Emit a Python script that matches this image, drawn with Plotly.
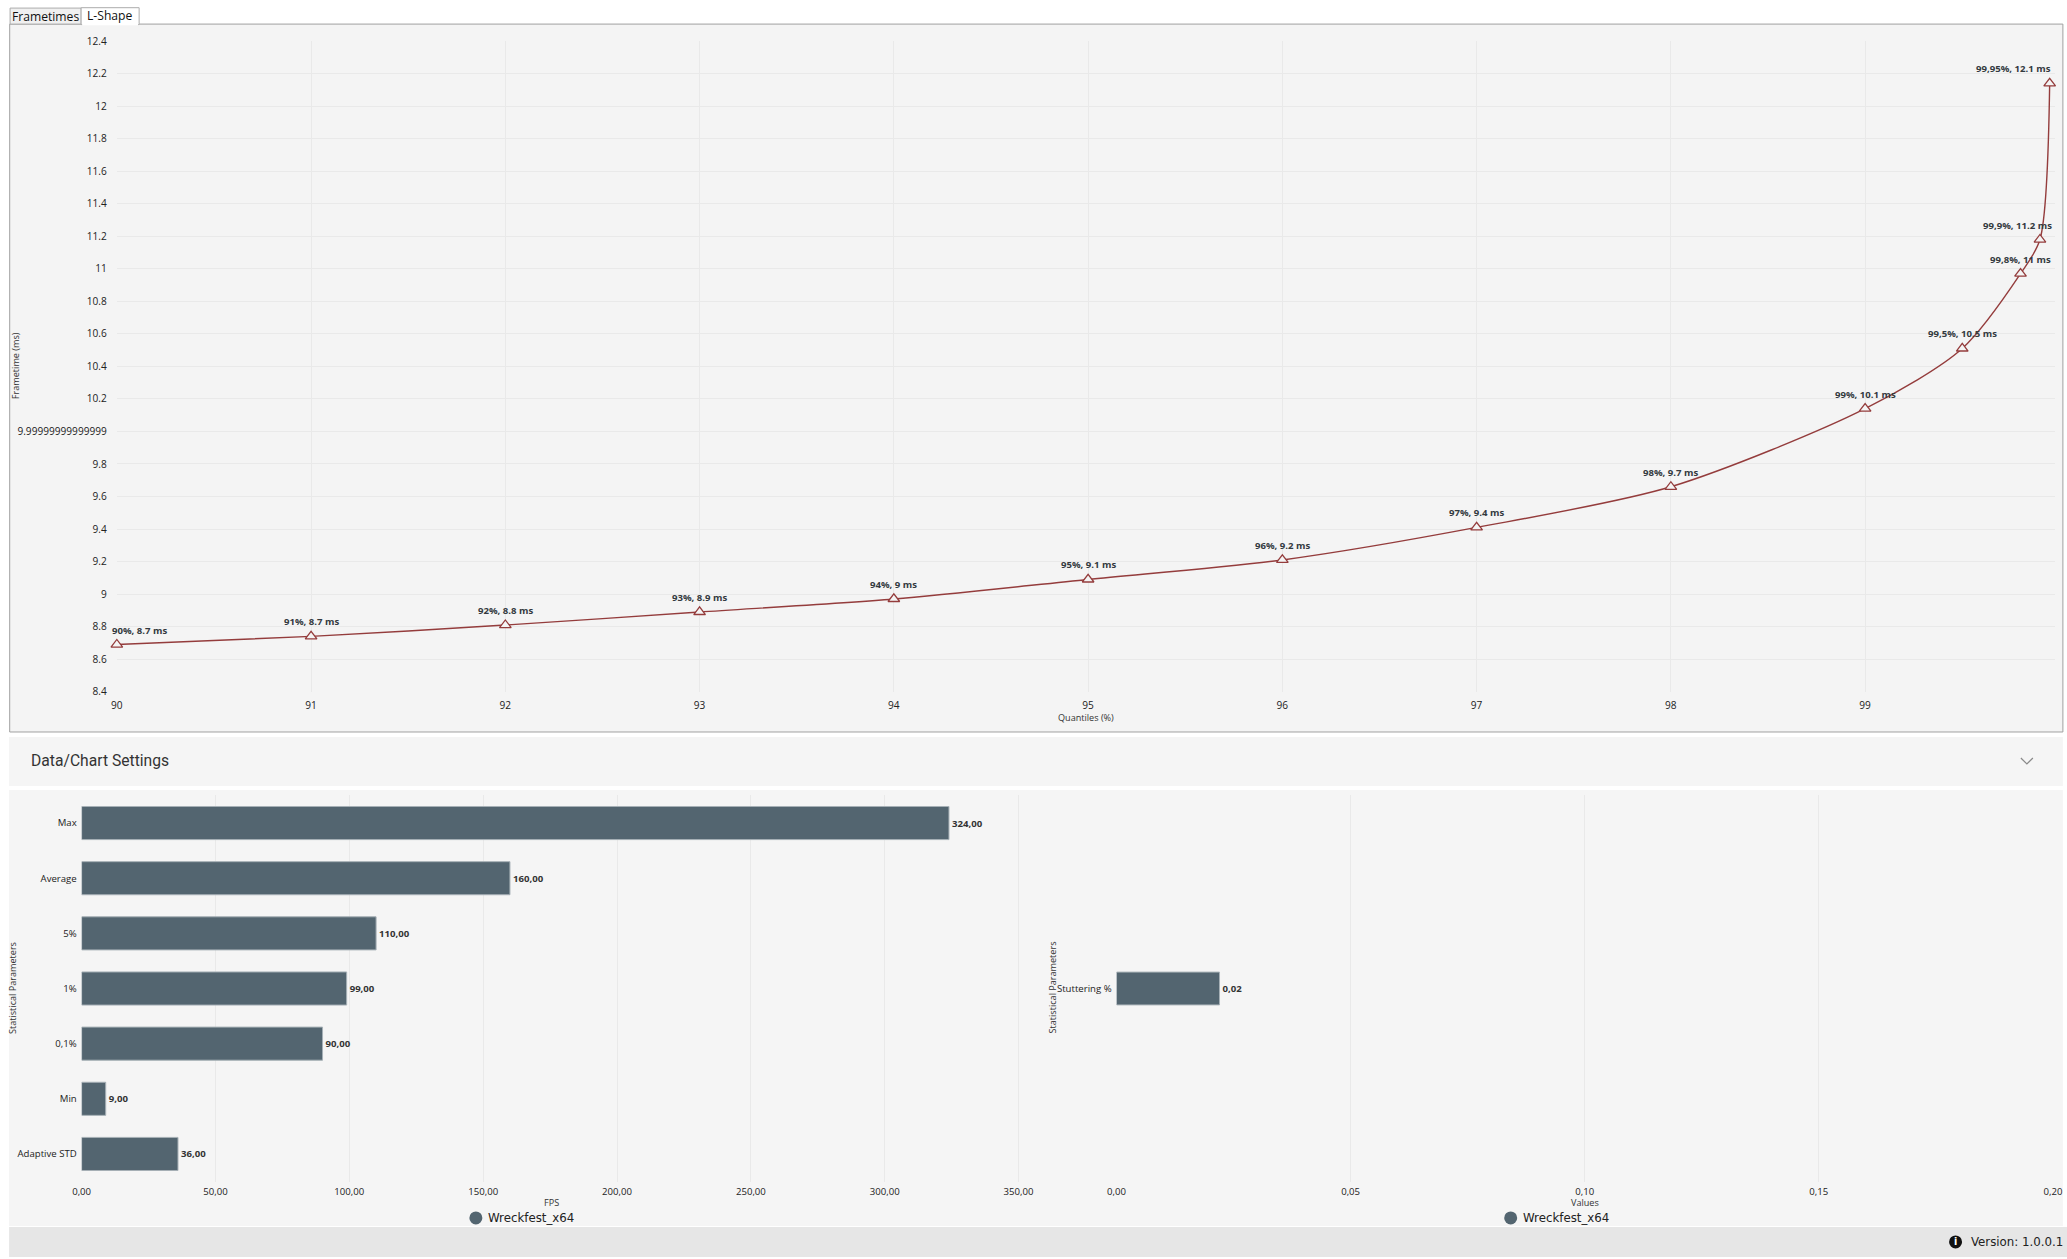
import plotly.graph_objects as go

# ---------------- data ----------------
QUANTILES = [90, 91, 92, 93, 94, 95, 96, 97, 98, 99, 99.5, 99.8, 99.9, 99.95]
FRAMETIMES_MS = [8.69, 8.74, 8.81, 8.89, 8.97, 9.09, 9.21, 9.41, 9.66, 10.14, 10.51, 10.97, 11.18, 12.14]
Y_TICK_VALUES = [8.4, 8.6, 8.8, 9.0, 9.2, 9.4, 9.6, 9.8, 10.0, 10.2, 10.4, 10.6, 10.8, 11.0, 11.2, 11.4, 11.6, 11.8, 12.0, 12.2, 12.4]
Y_TICK_TEXT = ["8.4", "8.6", "8.8", "9", "9.2", "9.4", "9.6", "9.8", "9.99999999999999", "10.2", "10.4", "10.6",
               "10.8", "11", "11.2", "11.4", "11.6", "11.8", "12", "12.2", "12.4"]
X_TICK_VALUES = [90, 91, 92, 93, 94, 95, 96, 97, 98, 99]

FPS_PARAMS = ["Max", "Average", "5%", "1%", "0,1%", "Min", "Adaptive STD"]
FPS_VALUES = [324, 160, 110, 99, 90, 9, 36]
OTHER_PARAMS = ["Stuttering %"]
OTHER_VALUES = [0.022]
SERIES_NAME = "Wreckfest_x64"

# ---------------- styles / layout helpers ----------------
# positions below are given in screen pixels of the target picture; the page keeps an
# 8px body margin and is photographed at a slight reduction, so convert accordingly
S = 0.989
OFF = 8
W, H = 2074, 1257
def fx(p): return (p / S - OFF) / W
def fy(p): return 1 - (p / S - OFF) / H
def fs(v): return v / S

FONT = "Open Sans, Noto Sans, sans-serif"
NARROW = "Liberation Sans Narrow, DejaVu Sans Condensed, Roboto, sans-serif"
LINE_COLOR = "#943c3c"
BAR_COLOR = "#536570"
TXT = "#333333"
GRID = "#e9e9e9"
LABEL_XSHIFT = [23, 0, 0, 0, 0, 0, 0, 0, 0, 0, 0, 0, -22, -36]

fig = go.Figure()

# L-shape line
fig.add_trace(go.Scatter(
    x=QUANTILES, y=FRAMETIMES_MS, mode="lines+markers",
    line=dict(color=LINE_COLOR, width=1.4, shape="spline", smoothing=0.8),
    marker=dict(symbol="triangle-up", size=fs(10), color="#f4f4f4",
                line=dict(color=LINE_COLOR, width=1.3)),
    cliponaxis=False, showlegend=False, xaxis="x", yaxis="y"))

# FPS bars
fig.add_trace(go.Bar(
    x=FPS_VALUES, y=FPS_PARAMS, orientation="h", width=0.6,
    marker=dict(color=BAR_COLOR, line=dict(color="#a6b0b6", width=1)),
    texttemplate="<b>%{x:.2f}</b>", textposition="outside",
    textfont=dict(family=FONT, size=fs(9.5), color=TXT), cliponaxis=False,
    showlegend=False, xaxis="x2", yaxis="y2"))

# Other values bar
fig.add_trace(go.Bar(
    x=OTHER_VALUES, y=OTHER_PARAMS, orientation="h", width=0.085,
    marker=dict(color=BAR_COLOR, line=dict(color="#a6b0b6", width=1)),
    texttemplate="<b>%{x:.2f}</b>", textposition="outside",
    textfont=dict(family=FONT, size=fs(9.5), color=TXT), cliponaxis=False,
    showlegend=False, xaxis="x3", yaxis="y3"))

x_max = 90 + (2053 - 115.7) / ((1863.3 - 115.7) / 9)

tickfont = dict(family=FONT, size=fs(10), color="#222222")
bartickfont = dict(family=FONT, size=fs(9.5), color="#222222")

layout = dict(
    width=W, height=H, margin=dict(l=0, r=0, t=0, b=0),
    paper_bgcolor="#ffffff", plot_bgcolor="rgba(0,0,0,0)",
    separators=",.",
    font=dict(family=FONT, color=TXT),
    showlegend=False,
    xaxis=dict(domain=[fx(115.7), fx(2053)], range=[90, x_max], tickvals=X_TICK_VALUES,
               showgrid=True, gridcolor=GRID, gridwidth=1, zeroline=False, showline=False,
               ticks="outside", ticklen=4, tickcolor="rgba(0,0,0,0)", tickfont=tickfont,
               anchor="y", fixedrange=True),
    yaxis=dict(domain=[fy(692.7), fy(42)], range=[8.4, 12.4], tickvals=Y_TICK_VALUES, ticktext=Y_TICK_TEXT,
               showgrid=True, gridcolor=GRID, gridwidth=1, zeroline=False, showline=False,
               ticks="outside", ticklen=7, tickcolor="rgba(0,0,0,0)", tickfont=tickfont,
               anchor="x", fixedrange=True),
    xaxis2=dict(domain=[fx(80.5), fx(1019.5)], range=[0, 350.9], dtick=50, tickformat=".2f",
                showgrid=True, gridcolor=GRID, zeroline=False, showline=False,
                ticks="outside", ticklen=1, tickcolor="rgba(0,0,0,0)", tickfont=bartickfont,
                anchor="y2", fixedrange=True),
    yaxis2=dict(domain=[fy(1182.6), fy(796.5)], autorange="reversed", type="category",
                showgrid=False, zeroline=False, showline=False,
                ticks="outside", ticklen=2, tickcolor="rgba(0,0,0,0)", tickfont=bartickfont,
                anchor="x2", fixedrange=True),
    xaxis3=dict(domain=[fx(1115), fx(2051)], range=[0, 0.2], dtick=0.05, tickformat=".2f",
                showgrid=True, gridcolor=GRID, zeroline=False, showline=False,
                ticks="outside", ticklen=1, tickcolor="rgba(0,0,0,0)", tickfont=bartickfont,
                anchor="y3", fixedrange=True),
    yaxis3=dict(domain=[fy(1182.6), fy(796.5)], type="category",
                showgrid=False, zeroline=False, showline=False,
                ticks="outside", ticklen=2, tickcolor="rgba(0,0,0,0)", tickfont=bartickfont,
                anchor="x3", fixedrange=True),
)

def rect(x0, y0, x1, y1, fill, line=None, lw=1):
    return dict(type="rect", xref="paper", yref="paper", x0=fx(x0), x1=fx(x1), y0=fy(y1), y1=fy(y0),
                fillcolor=fill, line=dict(color=line or "rgba(0,0,0,0)", width=lw if line else 0), layer="below")

def circle(cx, cy, r, fill):
    return dict(type="circle", xref="paper", yref="paper", x0=fx(cx - r), x1=fx(cx + r), y0=fy(cy + r), y1=fy(cy - r),
                fillcolor=fill, line=dict(width=0), layer="above")

shapes = [
    rect(8.6, 25, 2061, 733, "#f4f4f4", "#a0a0a0", 1),
    rect(9, 9, 80, 25, "#f0f0f0", "#acacac", 1),
    rect(80, 8.6, 138, 25.5, "#ffffff", "#acacac", 1),
    rect(81, 24, 137, 26.5, "#ffffff"),
    rect(8, 738, 2061, 787, "#f5f5f5"),
    rect(8, 791, 2061, 1227, "#f5f5f5"),
    rect(8, 1228, 2067, 1262, "#e6e6e6"),
    dict(type="path", xref="paper", yref="paper",
         path=f"M {fx(2019)} {fy(759)} L {fx(2025)} {fy(765)} L {fx(2031)} {fy(759)}",
         line=dict(color="#8a8a8a", width=1.2)),
    circle(474.6, 1219, 6.5, BAR_COLOR),
    circle(1509, 1219, 6.5, BAR_COLOR),
    circle(1953.7, 1243, 6.5, "#111111"),
]

ann = []
def text(x, y, s, size=9.5, color=TXT, family=FONT, xanchor="center", angle=0):
    ann.append(dict(xref="paper", yref="paper", x=fx(x), y=fy(y), text=s, showarrow=False,
                    xanchor=xanchor, yanchor="middle", textangle=angle,
                    font=dict(family=family, size=fs(size), color=color)))

text(44, 17.5, "Frametimes", size=12, color="#111111")
text(108.7, 16.5, "L-Shape", size=12, color="#111111")
text(28, 762, "Data/Chart Settings", size=15.5, color="#333333", family="Roboto, sans-serif", xanchor="left")
text(14.5, 366.5, "Frametime (ms)", size=9, angle=-90)
text(1084, 718.5, "Quantiles (%)", size=9)
text(12, 989, "Statistical Parameters", size=9, angle=-90)
text(1051, 989, "Statistical Parameters", size=9, angle=-90)
text(550, 1203.6, "FPS", size=9)
text(1583, 1203.6, "Values", size=9)
text(485, 1219, SERIES_NAME, size=13, color="#222222", family=NARROW, xanchor="left")
text(1519, 1219, SERIES_NAME, size=13, color="#222222", family=NARROW, xanchor="left")
text(1967, 1243, "Version: 1.0.0.1", size=13, color="#222222", family=NARROW, xanchor="left")
text(1953.9, 1243, "<b>i</b>", size=9.5, color="#ffffff", family="DejaVu Sans, sans-serif")

# point labels
for q, v, dx in zip(QUANTILES, FRAMETIMES_MS, LABEL_XSHIFT):
    qs = f"{q:g}".replace(".", ",")
    vs = f"{round(v, 1):g}"
    ann.append(dict(xref="x", yref="y", x=q, y=v, text=f"<b>{qs}%, {vs} ms</b>", showarrow=False,
                    xanchor="center", yanchor="bottom", yshift=6, xshift=dx,
                    font=dict(family=FONT, size=fs(9.5), color="#333a40")))

layout["shapes"] = shapes
layout["annotations"] = ann
fig.update_layout(**layout)

fig.write_html("out.html", config=dict(displayModeBar=False))
